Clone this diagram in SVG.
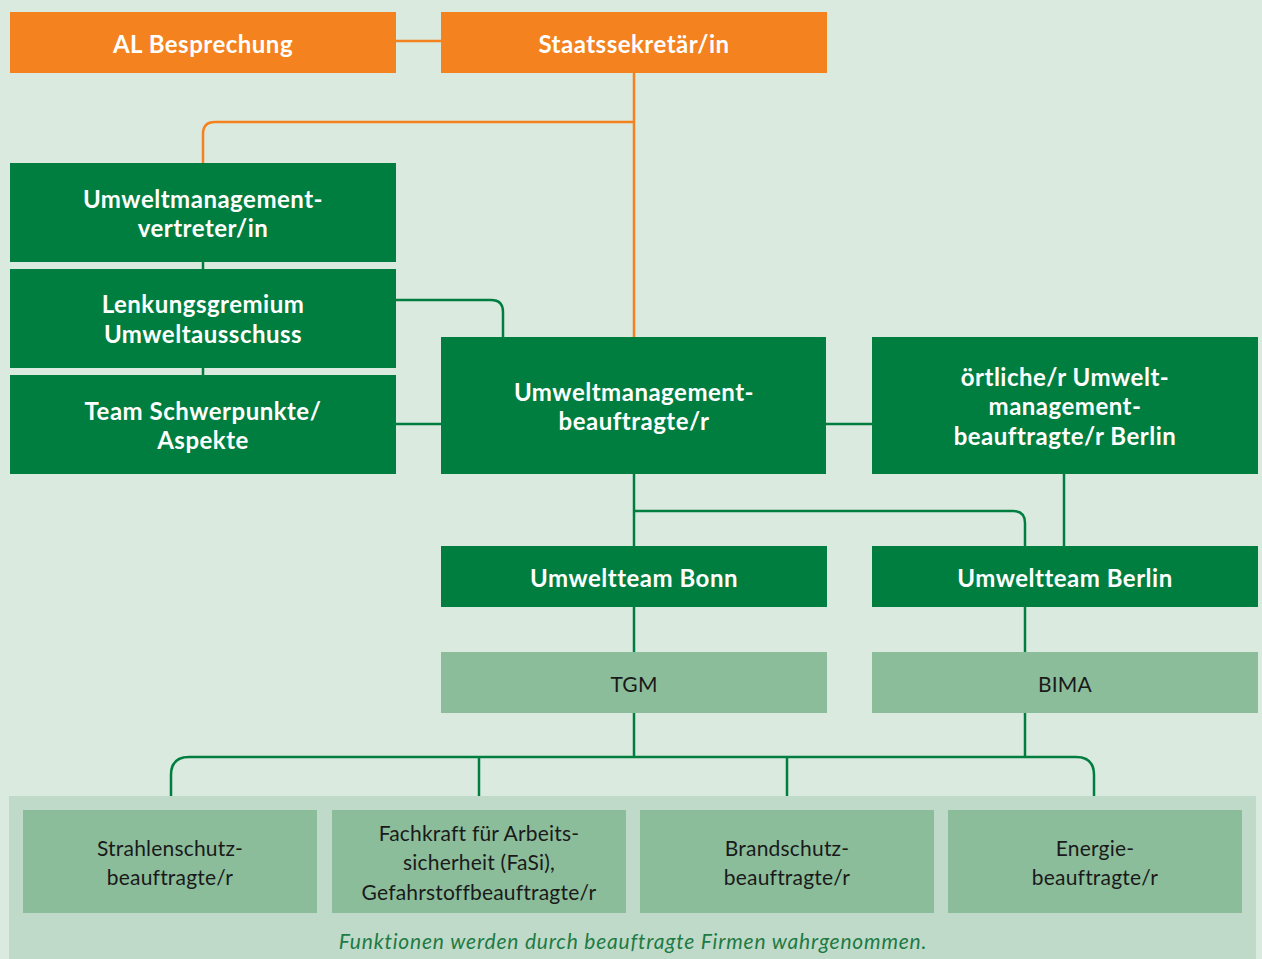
<svg xmlns="http://www.w3.org/2000/svg" width="1262" height="959" viewBox="0 0 1262 959">
<style>
.bg{fill:#dbeadf}
.or{fill:#f4821f}
.dg{fill:#007e40}
.lg{fill:#8bbd9b}
.panel{fill:#bfdac8}
.tb{font-family:Lato,"Open Sans",sans-serif;font-weight:bold;font-size:24px;letter-spacing:0.5px;fill:#ffffff;text-anchor:middle}
.tr{font-family:Lato,"Open Sans",sans-serif;font-size:21px;letter-spacing:0.2px;fill:#1a1a1a;text-anchor:middle}
.ti{font-family:Lato,"Open Sans",sans-serif;font-style:italic;font-size:21px;letter-spacing:0.8px;fill:#1e7a45;text-anchor:middle}
.co{fill:none;stroke:#f4821f;stroke-width:2.5}
.cg{fill:none;stroke:#007e40;stroke-width:2.5}
</style>
<rect class="bg" x="0" y="0" width="1262" height="959"/>
<rect class="panel" x="9" y="796" width="1247" height="163"/>
<g id="connectors">
<path class="co" d="M396 41H441"/>
<path class="co" d="M634 73V337"/>
<path class="co" d="M634 122H215Q203 122 203 134V163"/>
<path class="cg" d="M203 262V269M203 368V375"/>
<path class="cg" d="M396 300H491Q503 300 503 312V337"/>
<path class="cg" d="M396 424H441"/>
<path class="cg" d="M826 424H872"/>
<path class="cg" d="M634 474V546"/>
<path class="cg" d="M634 511H1013Q1025 511 1025 523V546"/>
<path class="cg" d="M1064 474V546"/>
<path class="cg" d="M634 607V652M1025 607V652"/>
<path class="cg" d="M634 713V757M1025 713V757"/>
<path class="cg" d="M171 796V775Q171 757 189 757H1076Q1094 757 1094 775V796"/>
<path class="cg" d="M479 757V796M787 757V796"/>
</g>
<g id="al"><rect class="or" x="10" y="12" width="386" height="61"/><text class="tb" x="203" y="53">AL Besprechung</text></g>
<g id="stsek"><rect class="or" x="441" y="12" width="386" height="61"/><text class="tb" x="634" y="53">Staatssekretär/in</text></g>
<g id="umv"><rect class="dg" x="10" y="163" width="386" height="99"/><text class="tb" x="203" y="208">Umweltmanagement-</text><text class="tb" x="203" y="237">vertreter/in</text></g>
<g id="lenk"><rect class="dg" x="10" y="269" width="386" height="99"/><text class="tb" x="203" y="313">Lenkungsgremium</text><text class="tb" x="203" y="343">Umweltausschuss</text></g>
<g id="team"><rect class="dg" x="10" y="375" width="386" height="99"/><text class="tb" x="203" y="420">Team Schwerpunkte/</text><text class="tb" x="203" y="449">Aspekte</text></g>
<g id="umb"><rect class="dg" x="441" y="337" width="385" height="137"/><text class="tb" x="634" y="401">Umweltmanagement-</text><text class="tb" x="634" y="430">beauftragte/r</text></g>
<g id="oertl"><rect class="dg" x="872" y="337" width="386" height="137"/><text class="tb" x="1065" y="386">örtliche/r Umwelt-</text><text class="tb" x="1065" y="415">management-</text><text class="tb" x="1065" y="445">beauftragte/r Berlin</text></g>
<g id="bonn"><rect class="dg" x="441" y="546" width="386" height="61"/><text class="tb" x="634" y="587">Umweltteam Bonn</text></g>
<g id="berlin"><rect class="dg" x="872" y="546" width="386" height="61"/><text class="tb" x="1065" y="587">Umweltteam Berlin</text></g>
<g id="tgm"><rect class="lg" x="441" y="652" width="386" height="61"/><text class="tr" x="634" y="692">TGM</text></g>
<g id="bima"><rect class="lg" x="872" y="652" width="386" height="61"/><text class="tr" x="1065" y="692">BIMA</text></g>
<g id="strahl"><rect class="lg" x="23" y="810" width="294" height="103"/><text class="tr" x="170" y="856">Strahlenschutz-</text><text class="tr" x="170" y="885">beauftragte/r</text></g>
<g id="fasi"><rect class="lg" x="332" y="810" width="294" height="103"/><text class="tr" x="479" y="841">Fachkraft für Arbeits-</text><text class="tr" x="479" y="870">sicherheit (FaSi),</text><text class="tr" x="479" y="900">Gefahrstoffbeauftragte/r</text></g>
<g id="brand"><rect class="lg" x="640" y="810" width="294" height="103"/><text class="tr" x="787" y="856">Brandschutz-</text><text class="tr" x="787" y="885">beauftragte/r</text></g>
<g id="energie"><rect class="lg" x="948" y="810" width="294" height="103"/><text class="tr" x="1095" y="856">Energie-</text><text class="tr" x="1095" y="885">beauftragte/r</text></g>
<text class="ti" x="633" y="949">Funktionen werden durch beauftragte Firmen wahrgenommen.</text>
</svg>
